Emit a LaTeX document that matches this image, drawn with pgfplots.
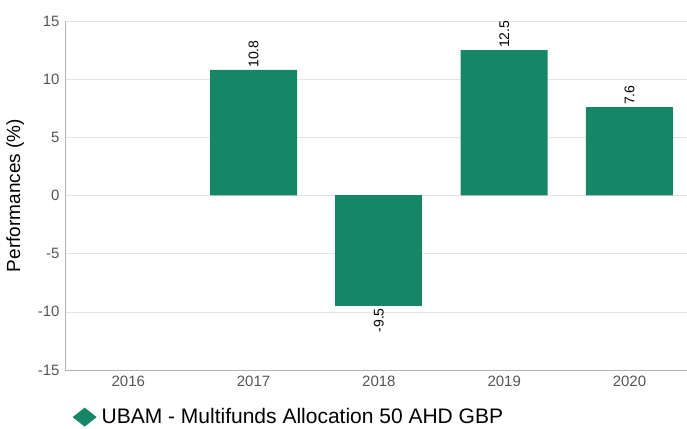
\documentclass[border=0pt]{standalone}
\usepackage{pgfplots}
\pgfplotsset{compat=1.18}
\usepackage{fontspec}
\setmainfont{Liberation Sans}
\definecolor{barGreen}{HTML}{158766}
\definecolor{tickGray}{HTML}{555555}

\begin{document}
\begin{tikzpicture}
\begin{axis}[
  scale only axis, width=622pt, height=349pt,
  ybar, bar width=87pt,
  xmin=-0.505, xmax=4.459,
  ymin=-15, ymax=15, ytick={-15,-10,...,15},
  xtick={0,1,2,3,4},
  xticklabels={2016,2017,2018,2019,2020},
  major tick length=0pt,
  axis x line*=bottom, axis y line*=left,
  axis line style={draw=black!30, -},
  ymajorgrids, grid style={draw=black!10},
  tick label style={font=\fontsize{15}{18}\selectfont, text=tickGray},
  /pgf/number format/assume math mode=true,
  xticklabel style={yshift=-2pt},
  yticklabel style={xshift=-2pt},
  ylabel={Performances (\%)},
  ylabel style={font=\fontsize{19}{22}\selectfont, at={(axis description cs:-0.08,0.5)}, anchor=center},
  legend style={at={(axis description cs:0.012,-0.135)}, anchor=west, draw=none, fill=none,
    inner sep=0pt, font=\fontsize{21}{24}\selectfont,
    nodes={inner xsep=5pt}},
  legend cell align=left,
  legend image code/.code={\fill[barGreen] (0pt,0pt) -- (12pt,9.5pt) -- (24pt,0pt) -- (12pt,-9.5pt) -- cycle;},
  nodes near coords,
  every node near coord/.append style={font=\fontsize{14}{16}\selectfont, text=black, rotate=90, inner sep=2pt},
]
\addplot[fill=barGreen, draw=none, bar shift=0pt,
  every node near coord/.append style={anchor=west}]
  coordinates {(1,10.8) (3,12.5) (4,7.6)};
\addlegendentry{UBAM - Multifunds Allocation 50 AHD GBP}
\addplot[fill=barGreen, draw=none, bar shift=0pt, forget plot,
  every node near coord/.append style={anchor=east}]
  coordinates {(2,-9.5)};
\end{axis}
\pgfresetboundingbox
\path[use as bounding box] ([xshift=-65pt,yshift=-58pt]current axis.south west) rectangle ([yshift=21pt]current axis.north east);
\end{tikzpicture}
\end{document}
